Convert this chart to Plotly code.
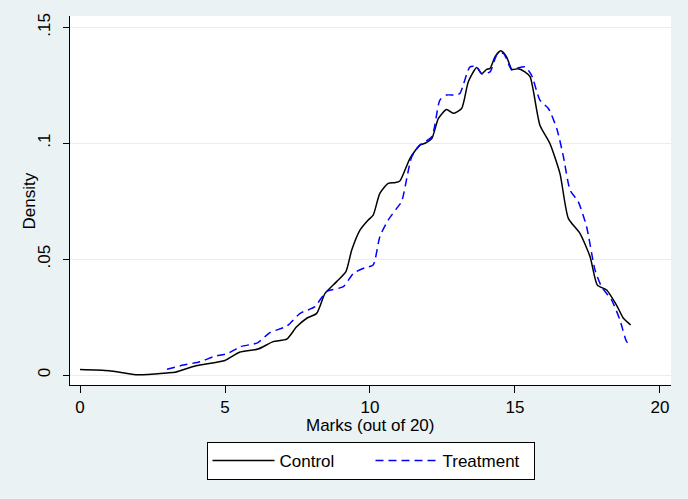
import plotly.graph_objects as go

# Control kernel density
control_x = [0.0, 1.0, 2.0, 3.0, 3.28, 4.0, 5.0, 5.5, 6.14, 6.66, 7.13, 7.47, 7.82, 8.16, 8.45,
             8.85, 9.17, 9.37, 9.66, 9.94, 10.11, 10.34, 10.63, 10.86, 11.03, 11.38, 11.72,
             11.9, 12.13, 12.36, 12.64, 12.87, 13.16, 13.39, 13.68, 13.85, 14.02, 14.14, 14.31,
             14.51, 14.71, 14.89, 15.11, 15.34, 15.52, 15.86, 16.2, 16.55, 16.84, 17.24, 17.59,
             17.84, 18.16, 18.5, 18.74, 18.99]
control_y = [0.0024, 0.0019, 0.0001, 0.0009, 0.0012, 0.0040, 0.0063, 0.0098, 0.0112, 0.0144,
             0.0155, 0.0208, 0.0245, 0.0266, 0.0352, 0.0403, 0.0446, 0.0539, 0.0626, 0.0669,
             0.0690, 0.0784, 0.0827, 0.0830, 0.0837, 0.0935, 0.0992, 0.1000, 0.1020, 0.1107,
             0.1146, 0.1129, 0.1150, 0.1265, 0.1327, 0.1300, 0.1319, 0.1323, 0.1373, 0.1399,
             0.1373, 0.1319, 0.1321, 0.1308, 0.1287, 0.1078, 0.1000, 0.0870, 0.0676, 0.0611,
             0.0510, 0.0388, 0.0367, 0.0302, 0.0245, 0.0216]

# Treatment kernel density
treat_x = [3.0, 3.56, 4.14, 4.6, 5.11, 5.52, 6.12, 6.55, 7.13, 7.59, 8.1, 8.5, 9.08, 9.43,
           9.83, 10.11, 10.34, 10.63, 10.92, 11.09, 11.44, 11.72, 12.13, 12.41, 12.64, 12.93,
           13.1, 13.45, 13.68, 13.85, 14.14, 14.37, 14.6, 14.89, 15.06, 15.34, 15.57, 15.86,
           16.15, 16.44, 16.67, 16.9, 17.18, 17.47, 17.76, 17.99, 18.33, 18.62, 18.85, 18.99]
treat_y = [0.0025, 0.0043, 0.0057, 0.0079, 0.0094, 0.0122, 0.0139, 0.0183, 0.0211, 0.0266,
           0.0295, 0.0360, 0.0381, 0.0439, 0.0463, 0.0475, 0.0597, 0.0669, 0.0719, 0.0748,
           0.0942, 0.0992, 0.1028, 0.1186, 0.1208, 0.1208, 0.1215, 0.1330, 0.1330, 0.1300,
           0.1308, 0.1380, 0.1388, 0.1316, 0.1323, 0.1330, 0.1294, 0.1186, 0.1150, 0.1064,
           0.0942, 0.0798, 0.0748, 0.0640, 0.0453, 0.0380, 0.0324, 0.0237, 0.0144, 0.0129]

x_ticks = [0, 5, 10, 15, 20]
x_tick_labels = ["0", "5", "10", "15", "20"]
y_ticks = [0, 0.05, 0.1, 0.15]
y_tick_labels = ["0", ".05", ".1", ".15"]
x_title = "Marks (out of 20)"
y_title = "Density"

BG = "#EAF2F3"
FONT = "Liberation Sans, Arial, sans-serif"

fig = go.Figure()
fig.add_trace(go.Scatter(x=control_x, y=control_y, mode="lines", name="Control",
                         line=dict(color="black", width=1.5, shape="spline", smoothing=0.6)))
fig.add_trace(go.Scatter(x=treat_x, y=treat_y, mode="lines", name="Treatment",
                         line=dict(color="#0000FF", width=1.5, dash="8px,5px",
                                   shape="spline", smoothing=0.6)))

fig.update_layout(
    width=688, height=499,
    margin=dict(l=70, r=17, t=16, b=114),
    paper_bgcolor=BG, plot_bgcolor="white",
    font=dict(family=FONT, size=17, color="black"),
    showlegend=True,
    legend=dict(orientation="h", x=0.5, xanchor="center", y=-0.154, yanchor="top",
                bgcolor="white", bordercolor="black", borderwidth=1,
                font=dict(size=17), itemwidth=62, entrywidth=86, entrywidthmode="pixels",
                tracegroupgap=0),
    annotations=[
        dict(text=x_title, xref="paper", yref="paper", x=0.5, y=-0.11,
             xanchor="center", yanchor="middle", showarrow=False, font=dict(size=17)),
        dict(text=y_title, xref="paper", yref="paper", x=-0.0666, y=0.5, textangle=-90,
             xanchor="center", yanchor="middle", showarrow=False, font=dict(size=17)),
    ],
)
fig.update_xaxes(range=[-0.345, 20.38], tickvals=x_ticks, ticktext=x_tick_labels,
                 showgrid=False, zeroline=False, showline=True, linecolor="black",
                 linewidth=1, ticks="outside", ticklen=7, tickcolor="black",
                 ticklabelstandoff=0, automargin=False)
fig.update_yaxes(range=[-0.0043, 0.1549], tickvals=y_ticks, ticktext=y_tick_labels,
                 tickangle=-90, showgrid=True, gridcolor="#E6EEF0", gridwidth=1,
                 zeroline=False, showline=True, linecolor="black", linewidth=1,
                 ticks="outside", ticklen=6, tickcolor="black", ticklabelstandoff=6,
                 automargin=False)

fig.write_html("out.html", config={"displayModeBar": False},
               post_script="document.body.style.margin='0';"
                           "document.body.style.background='#EAF2F3';")
